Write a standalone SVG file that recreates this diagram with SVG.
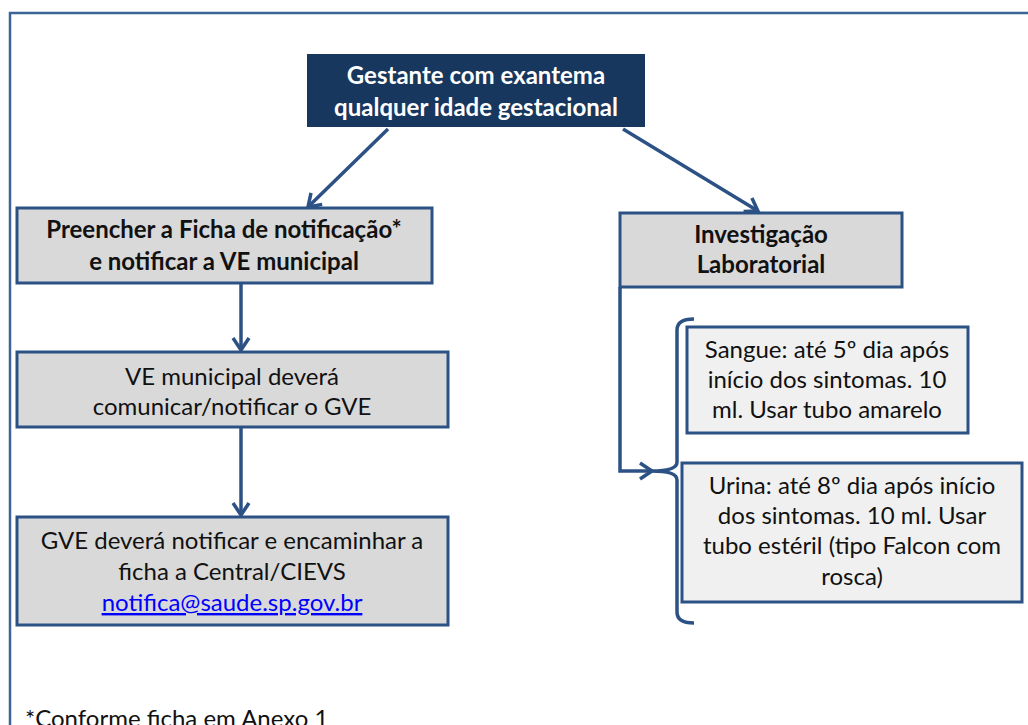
<svg xmlns="http://www.w3.org/2000/svg" width="1028" height="725" viewBox="0 0 1028 725">
<defs>
<style>
.box{fill:#d9d9d9;stroke:#2c5285;stroke-width:3}
.lbox{fill:#f0f0f0;stroke:#2c5285;stroke-width:3}
.t{font-family:Lato,"Liberation Sans",sans-serif;font-size:24px;fill:#111;text-anchor:middle}
.b{font-weight:bold}
.w{fill:#fff}
.con{fill:none;stroke:#2c5285;stroke-width:3.5}
</style>
<marker id="ah" markerWidth="20" markerHeight="20" refX="14" refY="10" orient="auto" markerUnits="userSpaceOnUse">
<path d="M2,2 L14,10 L2,18" fill="none" stroke="#2c5285" stroke-width="3.5"/>
</marker>
</defs>
<rect x="0" y="0" width="1028" height="725" fill="#fff"/>
<path d="M10,740 L10,13 L1040,13" fill="none" stroke="#3c6496" stroke-width="2.5"/>
<g id="n-top">
<rect x="307" y="54" width="338" height="73" fill="#17375e"/>
<text class="t b w" x="476" y="84">Gestante com exantema</text>
<text class="t b w" x="476" y="116">qualquer idade gestacional</text>
</g>
<g id="n-preencher">
<rect class="box" x="17" y="208" width="415" height="75"/>
<text class="t b" x="224" y="238">Preencher a Ficha de notificação*</text>
<text class="t b" x="224" y="270">e notificar a VE municipal</text>
</g>
<g id="n-ve">
<rect class="box" x="17" y="352" width="431" height="75"/>
<text class="t" x="232" y="385">VE municipal deverá</text>
<text class="t" x="232" y="415">comunicar/notificar o GVE</text>
</g>
<g id="n-gve">
<rect class="box" x="17" y="517" width="431" height="108"/>
<text class="t" x="232" y="549">GVE deverá notificar e encaminhar a</text>
<text class="t" x="232" y="580">ficha a Central/CIEVS</text>
<text class="t" x="232" y="611" style="fill:#0000ff" text-decoration="underline">notifica@saude.sp.gov.br</text>
</g>
<g id="n-invest">
<rect class="box" x="620" y="213" width="282" height="74"/>
<text class="t b" x="761" y="243">Investigação</text>
<text class="t b" x="761" y="273">Laboratorial</text>
</g>
<g id="n-sangue">
<rect class="lbox" x="687" y="327" width="281" height="106"/>
<text class="t" x="827" y="358">Sangue: até 5º dia após</text>
<text class="t" x="827" y="388">início dos sintomas. 10</text>
<text class="t" x="827" y="418">ml. Usar tubo amarelo</text>
</g>
<g id="n-urina">
<rect class="lbox" x="682" y="463" width="340" height="139"/>
<text class="t" x="852" y="494">Urina: até 8º dia após início</text>
<text class="t" x="852" y="524">dos sintomas. 10 ml. Usar</text>
<text class="t" x="852" y="554">tubo estéril (tipo Falcon com</text>
<text class="t" x="852" y="585">rosca)</text>
</g>
<g id="connectors">
<path class="con" d="M388,129 L308,207" marker-end="url(#ah)"/>
<path class="con" d="M623,129 L758,211" marker-end="url(#ah)"/>
<path class="con" d="M241,283 L241,350" marker-end="url(#ah)"/>
<path class="con" d="M241,427 L241,515" marker-end="url(#ah)"/>
<path class="con" d="M620,287 L620,471 L652,471" marker-end="url(#ah)"/>
<path class="con" d="M694,319 Q677,319 677,330 L677,462 Q677,471 652,471 Q677,471 677,480 L677,612 Q677,623 694,623"/>
</g>
<text class="t" x="25" y="727" style="text-anchor:start">*Conforme ficha em Anexo 1</text>
</svg>
